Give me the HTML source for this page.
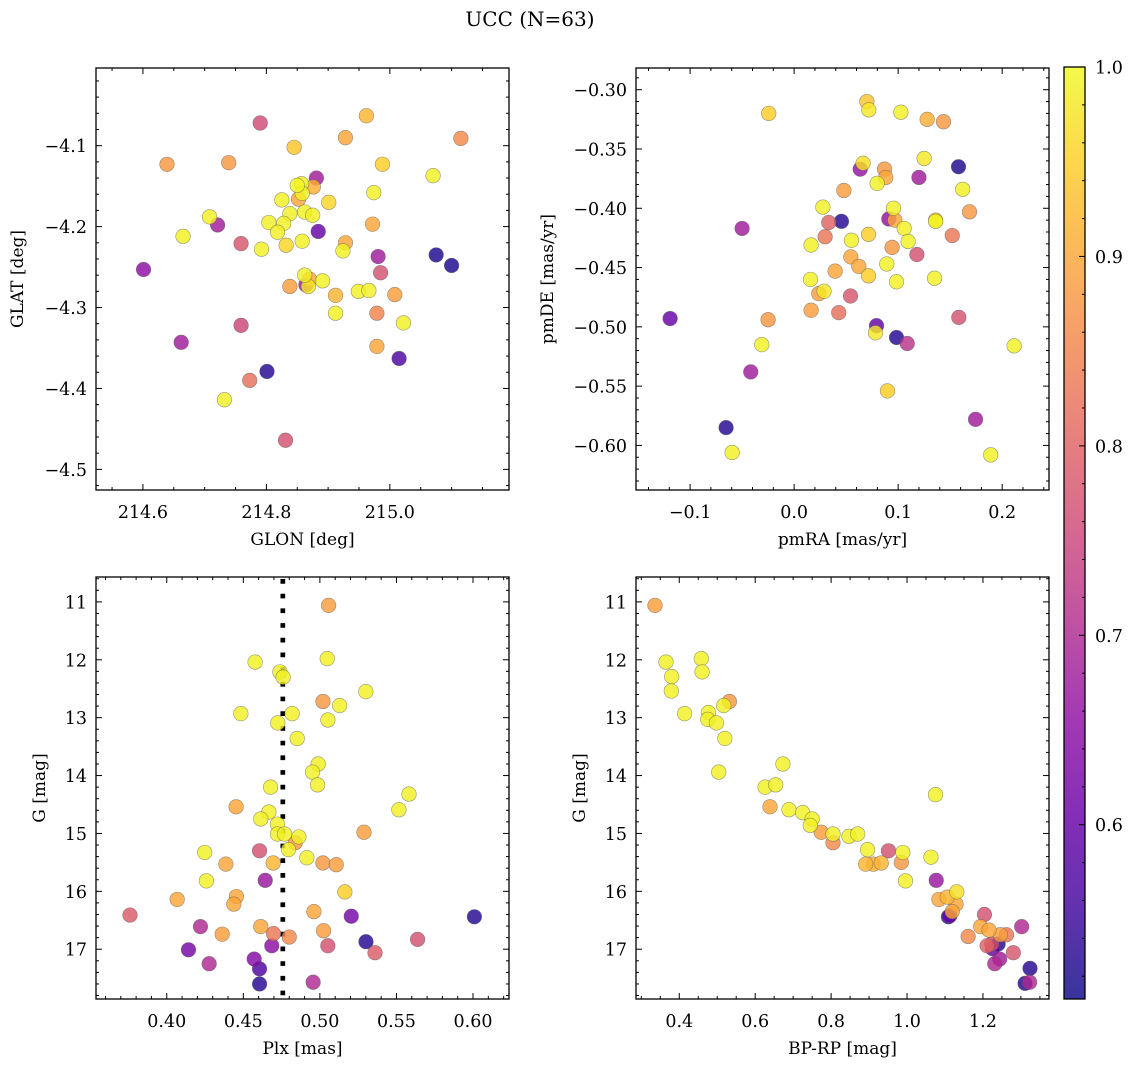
<!DOCTYPE html>
<html><head><meta charset="utf-8">
<style>
html,body{margin:0;padding:0;background:#fff;}
svg{display:block;font-family:"DejaVu Serif","Liberation Serif",serif;}
</style></head>
<body>
<svg id="fig" width="1136" height="1067" viewBox="0 0 1136 1067" xmlns="http://www.w3.org/2000/svg">
<text x="530" y="26" font-size="20" text-anchor="middle">UCC (N=63)</text>
</svg>
<script>
// ---- Panel 1: GLON vs GLAT ----
const p1GLON=[214.790,214.962,214.928,215.115,214.845,214.639,214.739,214.988,215.070,214.881,214.850,214.857,214.876,214.858,214.852,214.825,214.901,214.974,214.838,214.862,214.875,214.708,214.721,214.804,214.828,214.818,214.884,214.972,214.665,214.759,214.858,214.928,214.792,214.832,214.924,214.981,215.075,215.100,214.601,214.985,214.862,214.870,214.864,214.868,214.838,214.891,214.912,214.949,214.966,215.008,214.979,214.912,215.022,214.759,214.662,214.979,215.015,214.801,214.773,214.732,214.831];
const p1GLAT=[-4.072,-4.063,-4.090,-4.091,-4.102,-4.123,-4.121,-4.123,-4.137,-4.140,-4.149,-4.147,-4.151,-4.159,-4.166,-4.167,-4.170,-4.158,-4.184,-4.182,-4.186,-4.188,-4.198,-4.195,-4.196,-4.207,-4.206,-4.197,-4.212,-4.221,-4.218,-4.220,-4.228,-4.223,-4.230,-4.237,-4.235,-4.248,-4.253,-4.257,-4.260,-4.265,-4.272,-4.274,-4.274,-4.267,-4.285,-4.280,-4.279,-4.284,-4.307,-4.307,-4.319,-4.322,-4.343,-4.348,-4.363,-4.379,-4.390,-4.414,-4.464];
const p1Prob=[0.76,0.92,0.90,0.86,0.94,0.88,0.88,0.95,0.99,0.68,0.995,0.99,0.91,0.99,0.90,0.99,0.96,0.99,0.99,0.99,0.99,0.99,0.68,0.99,0.99,0.99,0.60,0.90,0.99,0.78,0.99,0.90,0.99,0.96,0.99,0.68,0.52,0.52,0.65,0.77,0.99,0.90,0.68,0.98,0.89,0.99,0.92,0.99,0.99,0.89,0.85,0.99,0.99,0.75,0.68,0.90,0.57,0.53,0.82,0.99,0.77];
// ---- Panel 2: pmRA vs pmDE ----
const p2PMRA=[-0.0244,0.0699,0.0718,0.1026,0.1279,0.1436,0.125,0.158,0.0635,0.0663,0.0869,0.0881,0.120,0.0798,0.162,0.0478,0.0276,0.0955,0.091,0.0968,0.136,0.136,0.1686,0.0455,0.0333,-0.05,0.1058,0.1096,0.0715,0.0298,0.152,0.0551,0.0163,0.0942,0.118,0.0545,0.0622,0.0891,0.0394,0.0715,0.0157,0.0984,0.135,0.0237,0.0288,0.0542,0.0163,0.0429,-0.1192,-0.025,0.1583,0.0792,0.0782,0.0984,0.1087,-0.0311,0.2115,-0.0417,0.0897,0.1744,-0.0654,-0.0596,0.189];
const p2PMDE=[-0.320,-0.310,-0.317,-0.319,-0.325,-0.327,-0.358,-0.365,-0.367,-0.362,-0.367,-0.374,-0.374,-0.379,-0.384,-0.385,-0.399,-0.400,-0.409,-0.410,-0.410,-0.411,-0.403,-0.411,-0.412,-0.417,-0.417,-0.428,-0.422,-0.424,-0.423,-0.427,-0.431,-0.433,-0.439,-0.441,-0.449,-0.447,-0.453,-0.457,-0.460,-0.462,-0.459,-0.472,-0.470,-0.474,-0.486,-0.488,-0.493,-0.494,-0.492,-0.499,-0.505,-0.509,-0.514,-0.515,-0.516,-0.538,-0.554,-0.578,-0.585,-0.606,-0.608];
const p2Prob=[0.95,0.94,0.98,0.99,0.91,0.88,0.98,0.52,0.66,0.97,0.88,0.90,0.68,0.99,0.99,0.89,0.99,0.99,0.66,0.90,0.95,0.995,0.88,0.53,0.80,0.68,0.99,0.99,0.95,0.83,0.83,0.99,0.99,0.88,0.77,0.90,0.90,0.99,0.90,0.95,0.99,0.99,0.99,0.89,0.98,0.78,0.89,0.82,0.60,0.88,0.77,0.60,0.98,0.53,0.72,0.99,0.99,0.68,0.95,0.68,0.53,0.99,0.99];
// ---- Panel 3: Plx vs G ----
const p3Plx=[0.5057,0.4577,0.5048,0.4739,0.4760,0.530,0.502,0.5129,0.4484,0.4819,0.5052,0.4725,0.4852,0.4989,0.4952,0.4985,0.4678,0.5582,0.5516,0.4453,0.4667,0.4614,0.4723,0.4723,0.4769,0.5288,0.4839,0.4863,0.4795,0.4606,0.4248,0.4915,0.4386,0.4695,0.502,0.5107,0.4259,0.4643,0.5163,0.4455,0.4438,0.4068,0.4961,0.376,0.5205,0.6009,0.422,0.4614,0.4362,0.4697,0.48,0.5024,0.5638,0.4686,0.5052,0.5301,0.4142,0.536,0.4277,0.4571,0.4606,0.4606,0.4956];
const p3G=[11.06,12.04,11.98,12.21,12.30,12.55,12.72,12.79,12.93,12.93,13.04,13.09,13.36,13.80,13.94,14.16,14.20,14.32,14.59,14.54,14.63,14.75,14.84,15.01,15.01,14.98,15.16,15.06,15.28,15.30,15.33,15.42,15.53,15.51,15.51,15.54,15.82,15.81,16.01,16.09,16.22,16.14,16.35,16.41,16.43,16.44,16.61,16.61,16.74,16.73,16.79,16.68,16.83,16.94,16.94,16.87,17.01,17.06,17.25,17.17,17.34,17.60,17.57];
const p3Prob=[0.89,0.99,0.99,0.99,0.99,0.99,0.88,0.99,0.99,0.99,0.99,0.99,0.99,0.99,0.99,0.99,0.99,0.99,0.99,0.90,0.99,0.99,0.99,0.99,0.99,0.89,0.88,0.99,0.99,0.77,0.99,0.99,0.90,0.92,0.88,0.89,0.99,0.67,0.95,0.90,0.90,0.90,0.90,0.79,0.62,0.53,0.70,0.90,0.89,0.83,0.86,0.89,0.77,0.65,0.77,0.53,0.62,0.79,0.70,0.64,0.57,0.53,0.70];
const p3PlxMedian=0.4758;
// ---- Panel 4: BP-RP vs G ----
const p4BPRP=[0.336,0.365,0.458,0.460,0.380,0.379,0.532,0.517,0.414,0.477,0.475,0.498,0.520,0.504,0.673,0.626,0.654,1.075,0.639,0.689,0.725,0.750,0.745,0.774,0.805,0.805,0.847,0.870,0.896,0.951,0.989,1.063,0.891,0.911,0.932,0.985,0.996,1.077,1.131,1.106,1.084,1.129,1.119,1.109,1.113,1.204,1.194,1.216,1.302,1.161,1.262,1.246,1.211,1.240,1.225,1.223,1.280,1.244,1.231,1.324,1.311,1.323];
const p4G=[11.06,12.04,11.98,12.21,12.29,12.54,12.72,12.79,12.93,12.91,13.03,13.09,13.36,13.94,13.80,14.20,14.16,14.33,14.54,14.59,14.64,14.75,14.86,14.98,15.01,15.16,15.05,15.01,15.28,15.30,15.33,15.41,15.53,15.53,15.51,15.50,15.82,15.81,16.01,16.10,16.14,16.22,16.35,16.44,16.42,16.40,16.61,16.67,16.61,16.78,16.75,16.75,16.94,16.91,16.99,16.91,17.06,17.17,17.25,17.33,17.59,17.57];
const p4Prob=[0.89,0.99,0.99,0.99,0.99,0.99,0.88,0.99,0.99,0.99,0.99,0.99,0.99,0.99,0.99,0.99,0.99,0.99,0.90,0.99,0.99,0.99,0.99,0.89,0.99,0.86,0.99,0.99,0.99,0.77,0.99,0.99,0.92,0.91,0.92,0.88,0.99,0.67,0.97,0.92,0.90,0.90,0.90,0.53,0.60,0.77,0.90,0.90,0.70,0.86,0.83,0.89,0.80,0.53,0.60,0.77,0.78,0.68,0.70,0.53,0.53,0.70];
// colorbar
const cbarTicks=[0.6,0.7,0.8,0.9,1.0];
const cbarMin=0.508, cbarMax=1.0;

const NS="http://www.w3.org/2000/svg";
const svg=document.getElementById('fig');
function mk(tag,attrs,parent){const e=document.createElementNS(NS,tag);for(const k in attrs)e.setAttribute(k,attrs[k]);(parent||svg).appendChild(e);return e;}
const plasma=[[13,8,135],[65,4,157],[106,0,168],[143,13,164],[177,42,144],[204,71,120],[225,100,98],[242,132,75],[252,166,54],[252,206,37],[240,249,33]];
function cmap(v){let t=(v-cbarMin)/(cbarMax-cbarMin);t=Math.max(0,Math.min(1,t));const f=t*10;const i=Math.min(9,Math.floor(f));const r=f-i;const a=plasma[i],b=plasma[i+1];return 'rgb('+[0,1,2].map(k=>Math.round(a[k]+(b[k]-a[k])*r)).join(',')+')';}
function fmt(v,d){const s=Math.abs(v).toFixed(d);return (v<-1e-9?'\u2212':'')+s;}

function panel(cfg,xs,ys,ps,key){
  const {L,T,W,H,xmin,xmax,ymin,ymax,invY}=cfg;
  const sx=v=>L+(v-xmin)/(xmax-xmin)*W;
  const sy=v=>invY?T+(v-ymin)/(ymax-ymin)*H:T+H-(v-ymin)/(ymax-ymin)*H;
  const g=mk('g',{});
  
  
  const tg=mk('g',{stroke:'#000','stroke-width':1},g);
  const eps=1e-9;
  for(let v=Math.ceil(xmin/cfg.xminor-eps)*cfg.xminor;v<=xmax+eps;v+=cfg.xminor){
    const isMaj=Math.abs(v/cfg.xmajor-Math.round(v/cfg.xmajor))<1e-6;const len=isMaj?6:3;const x=sx(v);
    mk('line',{x1:x,x2:x,y1:T+H,y2:T+H-len},tg);mk('line',{x1:x,x2:x,y1:T,y2:T+len},tg);
  }
  for(let v=Math.ceil(ymin/cfg.yminor-eps)*cfg.yminor;v<=ymax+eps;v+=cfg.yminor){
    const isMaj=Math.abs(v/cfg.ymajor-Math.round(v/cfg.ymajor))<1e-6;const len=isMaj?6:3;const y=sy(v);
    mk('line',{x1:L,x2:L+len,y1:y,y2:y},tg);mk('line',{x1:L+W,x2:L+W-len,y1:y,y2:y},tg);
  }
  cfg.xticks.forEach(v=>{const t=mk('text',{x:sx(v),y:T+H+28,'font-size':17.5,'text-anchor':'middle'},g);t.textContent=fmt(v,cfg.xdec);
    
    });
  cfg.yticks.forEach(v=>{const t=mk('text',{x:L-9,y:sy(v)+6.5,'font-size':17.5,'text-anchor':'end'},g);t.textContent=fmt(v,cfg.ydec);
    
    });
  const xl=mk('text',{x:L+W/2,y:T+H+55,'font-size':17,'text-anchor':'middle'},g);xl.textContent=cfg.xlabel;
  
  
  const yl=mk('text',{x:0,y:0,'font-size':17,'text-anchor':'middle',transform:'translate('+cfg.ylx+','+(T+H/2)+') rotate(-90)'},g);yl.textContent=cfg.ylabel;
  
  
  const cp=mk('clipPath',{id:'clip-'+key},g);mk('rect',{x:L,y:T,width:W,height:H},cp);
  const pg=mk('g',{'clip-path':'url(#clip-'+key+')'},g);
  if(cfg.vline!==undefined){
    const ln=mk('line',{x1:sx(cfg.vline),x2:sx(cfg.vline),y1:T+2,y2:T+H,stroke:'#000','stroke-width':4.7,'stroke-dasharray':'4.7 10'},pg);
    
    
  }
  const idx=ps.map((p,i)=>i).sort((a,b)=>ps[a]-ps[b]);
  idx.forEach(i=>{
    const c=mk('circle',{cx:sx(xs[i]),cy:sy(ys[i]),r:7.3,fill:cmap(ps[i]),'fill-opacity':0.82,stroke:'#555','stroke-opacity':0.6,'stroke-width':0.6},pg);
    
    
  });
  const fr=mk('rect',{x:L,y:T,width:W,height:H,fill:'none',stroke:'#000','stroke-width':1.3},g);
  
  
}

panel({L:96,T:68,W:413,H:422,xmin:214.524,xmax:215.193,ymin:-4.5255,ymax:-4.004,xmajor:0.2,xminor:0.05,ymajor:0.1,yminor:0.02,
  xticks:[214.6,214.8,215.0],yticks:[-4.1,-4.2,-4.3,-4.4,-4.5],xdec:1,ydec:1,xlabel:'GLON [deg]',ylabel:'GLAT [deg]',ylx:23},p1GLON,p1GLAT,p1Prob,'glon-glat');
panel({L:636,T:68,W:413,H:422,xmin:-0.152,xmax:0.245,ymin:-0.6376,ymax:-0.2817,xmajor:0.1,xminor:0.02,ymajor:0.05,yminor:0.01,
  xticks:[-0.1,0.0,0.1,0.2],yticks:[-0.30,-0.35,-0.40,-0.45,-0.50,-0.55,-0.60],xdec:1,ydec:2,xlabel:'pmRA [mas/yr]',ylabel:'pmDE [mas/yr]',ylx:553},p2PMRA,p2PMDE,p2Prob,'pmra-pmde');
panel({L:96,T:577,W:413,H:422,xmin:0.3538,xmax:0.6235,ymin:10.57,ymax:17.86,invY:true,xmajor:0.05,xminor:0.01,ymajor:1,yminor:0.2,
  xticks:[0.40,0.45,0.50,0.55,0.60],yticks:[11,12,13,14,15,16,17],xdec:2,ydec:0,xlabel:'Plx [mas]',ylabel:'G [mag]',ylx:45,vline:p3PlxMedian},p3Plx,p3G,p3Prob,'plx-g');
panel({L:636,T:577,W:413,H:422,xmin:0.286,xmax:1.374,ymin:10.57,ymax:17.86,invY:true,xmajor:0.2,xminor:0.05,ymajor:1,yminor:0.2,
  xticks:[0.4,0.6,0.8,1.0,1.2],yticks:[11,12,13,14,15,16,17],xdec:1,ydec:0,xlabel:'BP-RP [mag]',ylabel:'G [mag]',ylx:585},p4BPRP,p4G,p4Prob,'bprp-g');

(function(){
  const L=1064,T=67,W=21,H=932;
  const g=mk('g',{});
  
  
  const defs=mk('defs',{},g);
  const lg=mk('linearGradient',{id:'cbg',x1:0,y1:1,x2:0,y2:0},defs);
  for(let i=0;i<=20;i++){const v=cbarMin+(cbarMax-cbarMin)*i/20;mk('stop',{offset:(i/20),'stop-color':cmap(v),'stop-opacity':0.82},lg);}
  mk('rect',{x:L,y:T,width:W,height:H,fill:'url(#cbg)'},g);
  const sy=v=>T+H-(v-cbarMin)/(cbarMax-cbarMin)*H;
  for(let k=26;k<=50;k++){const v=k*0.02;if(v<cbarMin-1e-9)continue;const maj=(k%5===0);const y=sy(v);
    mk('line',{x1:L+W,x2:L+W-(maj?6:3),y1:y,y2:y,stroke:'#000','stroke-width':1},g);}
  cbarTicks.forEach(v=>{const t=mk('text',{x:L+W+10,y:sy(v)+6.5,'font-size':17.5},g);t.textContent=v.toFixed(1);
    
    });
  mk('rect',{x:L,y:T,width:W,height:H,fill:'none',stroke:'#000','stroke-width':1.3},g);
})();
</script>
</body></html>
